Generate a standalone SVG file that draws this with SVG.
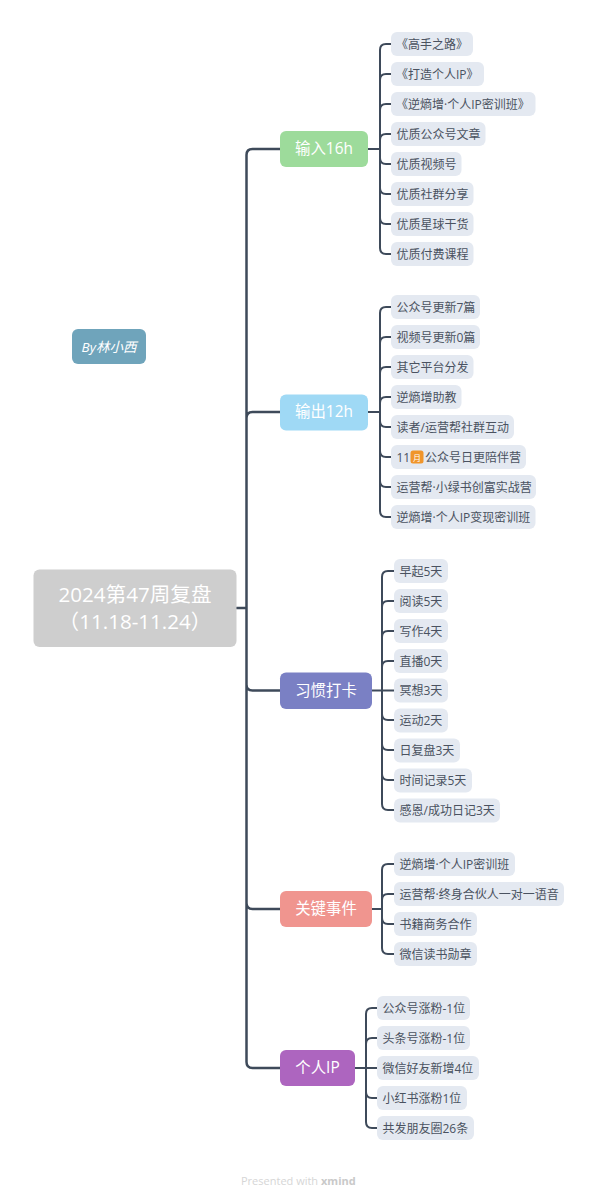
<svg xmlns="http://www.w3.org/2000/svg" width="600" height="1204" viewBox="0 0 600 1204">
<style>
text{font-family:"Open Sans","Noto Sans CJK SC",sans-serif}
.leaf rect{fill:#e4e9f1}
.leaf text{font-size:12px;fill:#4a5260}
.b text{font-size:15.4px;fill:#fff;text-anchor:middle}
.c{fill:none;stroke:#3e4a5a;stroke-linecap:round}
.t{stroke-width:2.5}
.s{stroke-width:2}
</style>
<rect width="600" height="1204" fill="#fff"/>
<g id="connectors">
<path class="c t" d="M236.5 608H246.5M246.5 608V155Q246.5 149 252.5 149H280M246.5 608V418Q246.5 412 252.5 412H280M246.5 608V684.5Q246.5 690.5 252.5 690.5H280M246.5 608V903Q246.5 909 252.5 909H280M246.5 608V1062Q246.5 1068 252.5 1068H280"/>
<path class="c s" d="M368 149H380M380 149V50Q380 44 386 44H391M380 149V80Q380 74 386 74H391M380 149V110Q380 104 386 104H391M380 149V140Q380 134 386 134H391M380 149V158Q380 164 386 164H391M380 149V188Q380 194 386 194H391M380 149V218Q380 224 386 224H391M380 149V248Q380 254 386 254H391"/>
<path class="c s" d="M368 412H380M380 412V313Q380 307 386 307H391M380 412V343Q380 337 386 337H391M380 412V373Q380 367 386 367H391M380 412V403Q380 397 386 397H391M380 412V421Q380 427 386 427H391M380 412V451Q380 457 386 457H391M380 412V481Q380 487 386 487H391M380 412V511Q380 517 386 517H391"/>
<path class="c s" d="M372 690.5H394M382 690.5V577Q382 571 388 571H394M382 690.5V607Q382 601 388 601H394M382 690.5V637Q382 631 388 631H394M382 690.5V667Q382 661 388 661H394M382 690.5V714Q382 720 388 720H394M382 690.5V744Q382 750 388 750H394M382 690.5V774Q382 780 388 780H394M382 690.5V804Q382 810 388 810H394"/>
<path class="c s" d="M372 909H382M382 909V870Q382 864 388 864H394M382 909V900Q382 894 388 894H394M382 909V918Q382 924 388 924H394M382 909V948Q382 954 388 954H394"/>
<path class="c s" d="M355 1068H377M366 1068V1014Q366 1008 372 1008H377M366 1068V1044Q366 1038 372 1038H377M366 1068V1092Q366 1098 372 1098H377M366 1068V1122Q366 1128 372 1128H377"/>
</g>
<g id="root"><rect x="33.5" y="569.500" width="203" height="77.500" rx="6" fill="#cecece"/><text x="135" y="602" font-size="20.600" fill="#fff" text-anchor="middle">2024第47周复盘</text><text x="135" y="629" font-size="20.600" fill="#fff" text-anchor="middle">（11.18-11.24）</text></g>
<g id="by"><rect x="72" y="329" width="74" height="35" rx="6" fill="#6fa4bb"/><text x="109" y="352" font-size="13.500" font-style="italic" fill="#fff" text-anchor="middle">By林小西</text></g>
<g id="b1" class="b"><rect x="280" y="131" width="88" height="36" rx="6" fill="#9ddb9b"/><text x="324" y="154">输入16h</text></g>
<g id="b2" class="b"><rect x="280" y="394.500" width="88" height="36" rx="6" fill="#9fd9f5"/><text x="324" y="417">输出12h</text></g>
<g id="b3" class="b"><rect x="280" y="672.500" width="92" height="36.500" rx="6" fill="#7a80c4"/><text x="326" y="696">习惯打卡</text></g>
<g id="b4" class="b"><rect x="280" y="891" width="92" height="36" rx="6" fill="#f0958f"/><text x="326" y="914">关键事件</text></g>
<g id="b5" class="b"><rect x="280" y="1050" width="75" height="36" rx="6" fill="#ad65bf"/><text x="317.500" y="1073">个人IP</text></g>
<g id="l1" class="leaf"><rect x="391" y="32" width="82" height="24" rx="6"/><text x="396" y="48.500">《高手之路》</text></g>
<g id="l2" class="leaf"><rect x="391" y="62" width="93" height="24" rx="6"/><text x="396" y="78.500">《打造个人IP》</text></g>
<g id="l3" class="leaf"><rect x="391" y="92" width="144.500" height="24" rx="6"/><text x="396" y="108.500">《逆熵增·个人IP密训班》</text></g>
<g id="l4" class="leaf"><rect x="391" y="122" width="94.500" height="24" rx="6"/><text x="396.500" y="138.500">优质公众号文章</text></g>
<g id="l5" class="leaf"><rect x="391" y="152" width="70.500" height="24" rx="6"/><text x="396.500" y="168.500">优质视频号</text></g>
<g id="l6" class="leaf"><rect x="391" y="182" width="82.500" height="24" rx="6"/><text x="396.500" y="198.500">优质社群分享</text></g>
<g id="l7" class="leaf"><rect x="391" y="212" width="82.500" height="24" rx="6"/><text x="396.500" y="228.500">优质星球干货</text></g>
<g id="l8" class="leaf"><rect x="391" y="242" width="82.500" height="24" rx="6"/><text x="396.500" y="258.500">优质付费课程</text></g>
<g id="l9" class="leaf"><rect x="391" y="295" width="89" height="24" rx="6"/><text x="396.500" y="311.500">公众号更新7篇</text></g>
<g id="l10" class="leaf"><rect x="391" y="325" width="89" height="24" rx="6"/><text x="396.500" y="341.500">视频号更新0篇</text></g>
<g id="l11" class="leaf"><rect x="391" y="355" width="82.500" height="24" rx="6"/><text x="396.500" y="371.500">其它平台分发</text></g>
<g id="l12" class="leaf"><rect x="391" y="385" width="70.500" height="24" rx="6"/><text x="396.500" y="401.500">逆熵增助教</text></g>
<g id="l13" class="leaf"><rect x="391" y="415" width="123" height="24" rx="6"/><text x="396.500" y="431.500">读者/运营帮社群互动</text></g>
<g id="l14" class="leaf"><rect x="391" y="445" width="135" height="24" rx="6"/><text x="396.500" y="461.500">11</text><rect x="410.500" y="450.500" width="13" height="13" rx="2.500" style="fill:#f0952b"/><text x="413" y="460.500" style="font-size:8px;fill:#fff">月</text><text x="425" y="461.500">公众号日更陪伴营</text></g>
<g id="l15" class="leaf"><rect x="391" y="475" width="145" height="24" rx="6"/><text x="396.500" y="491.500">运营帮·小绿书创富实战营</text></g>
<g id="l16" class="leaf"><rect x="391" y="505" width="144.500" height="24" rx="6"/><text x="396.500" y="521.500">逆熵增·个人IP变现密训班</text></g>
<g id="l17" class="leaf"><rect x="394" y="559" width="54" height="24" rx="6"/><text x="399.500" y="575.500">早起5天</text></g>
<g id="l18" class="leaf"><rect x="394" y="589" width="54" height="24" rx="6"/><text x="399.500" y="605.500">阅读5天</text></g>
<g id="l19" class="leaf"><rect x="394" y="619" width="54" height="24" rx="6"/><text x="399.500" y="635.500">写作4天</text></g>
<g id="l20" class="leaf"><rect x="394" y="649" width="54" height="24" rx="6"/><text x="399.500" y="665.500">直播0天</text></g>
<g id="l21" class="leaf"><rect x="394" y="678.500" width="54" height="24" rx="6"/><text x="399.500" y="695">冥想3天</text></g>
<g id="l22" class="leaf"><rect x="394" y="708.500" width="54" height="24" rx="6"/><text x="399.500" y="725">运动2天</text></g>
<g id="l23" class="leaf"><rect x="394" y="738.500" width="66" height="24" rx="6"/><text x="399.500" y="755">日复盘3天</text></g>
<g id="l24" class="leaf"><rect x="394" y="768.500" width="78" height="24" rx="6"/><text x="399.500" y="785">时间记录5天</text></g>
<g id="l25" class="leaf"><rect x="394" y="798.500" width="106" height="24" rx="6"/><text x="399.500" y="815">感恩/成功日记3天</text></g>
<g id="l26" class="leaf"><rect x="394" y="852" width="121" height="24" rx="6"/><text x="399.500" y="868.500">逆熵增·个人IP密训班</text></g>
<g id="l27" class="leaf"><rect x="394" y="882" width="170" height="24" rx="6"/><text x="399.500" y="898.500">运营帮·终身合伙人一对一语音</text></g>
<g id="l28" class="leaf"><rect x="394" y="912" width="83" height="24" rx="6"/><text x="399.500" y="928.500">书籍商务合作</text></g>
<g id="l29" class="leaf"><rect x="394" y="942" width="83" height="24" rx="6"/><text x="399.500" y="958.500">微信读书勋章</text></g>
<g id="l30" class="leaf"><rect x="377" y="996" width="93" height="24" rx="6"/><text x="382.500" y="1012.500">公众号涨粉-1位</text></g>
<g id="l31" class="leaf"><rect x="377" y="1026" width="93" height="24" rx="6"/><text x="382.500" y="1042.500">头条号涨粉-1位</text></g>
<g id="l32" class="leaf"><rect x="377" y="1056" width="102" height="24" rx="6"/><text x="382.500" y="1072.500">微信好友新增4位</text></g>
<g id="l33" class="leaf"><rect x="377" y="1086" width="90" height="24" rx="6"/><text x="382.500" y="1102.500">小红书涨粉1位</text></g>
<g id="l34" class="leaf"><rect x="377" y="1116" width="97" height="24" rx="6"/><text x="382.500" y="1132.500">共发朋友圈26条</text></g>
<text x="241" y="1185" font-size="11" fill="#d6d6d6">Presented with <tspan font-weight="700" fill="#c9c9c9">xmind</tspan></text>
</svg>
